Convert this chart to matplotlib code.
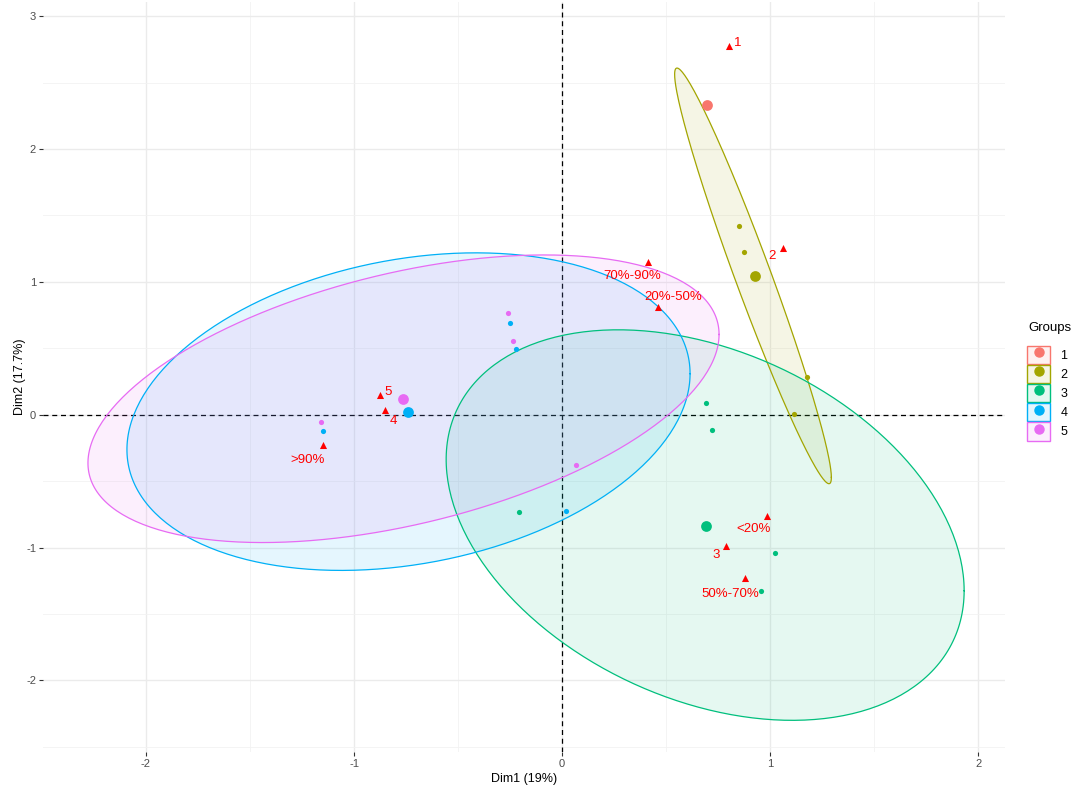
import numpy as np
import matplotlib
matplotlib.use("Agg")
import matplotlib.pyplot as plt
from matplotlib.patches import Patch
from matplotlib.lines import Line2D
from matplotlib.legend_handler import HandlerTuple

plt.rcParams['font.family'] = ['Liberation Sans', 'DejaVu Sans']
plt.rcParams['axes.unicode_minus'] = False

# individuals, coloured by group
groups = ['1', '2', '3', '4', '5']
group_colors = ['#F8766D', '#A3A500', '#00BF7D', '#00B0F6', '#E76BF3']
ind_x = [
    [0.697],
    [0.851, 0.875, 1.178, 1.115],
    [0.692, 0.721, -0.207, 1.024, 0.957],
    [-0.250, -0.221, -1.149, 0.019],
    [-0.260, -0.236, -1.159, 0.067],
]
ind_y = [
    [2.331],
    [1.421, 1.226, 0.286, 0.008],
    [0.090, -0.113, -0.729, -1.045, -1.331],
    [0.692, 0.496, -0.120, -0.722],
    [0.767, 0.556, -0.053, -0.376],
]

# group means
mean_x = [0.697, 0.928, 0.692, -0.740, -0.764]
mean_y = [2.331, 1.045, -0.835, 0.023, 0.120]

# concentration ellipses (centre + shape matrix), group 1 has none
ell_groups = [1, 2, 3, 4]
ell_cx = [0.918, 0.688, -0.738, -0.762]
ell_cy = [1.045, -0.831, 0.023, 0.120]
ell_sxx = [0.1419, 1.550, 1.832, 2.301]
ell_syy = [2.448, 2.161, 1.429, 1.172]
ell_sxy = [-0.5714, -0.615, 0.387, 0.734]

# supplementary categories
sup_labels = ['1', '2', '70%-90%', '20%-50%', '5', '4', '>90%', '<20%', '3', '50%-70%']
sup_x = [0.803, 1.063, 0.413, 0.462, -0.875, -0.851, -1.149, 0.986, 0.788, 0.880]
sup_y = [2.774, 1.256, 1.150, 0.812, 0.150, 0.038, -0.226, -0.759, -0.985, -1.233]
# label offsets in points (repelled text)
sup_offsets = [(6, 2), (-8, -6), (-11, -10), (11, 7), (6, 2), (6, -8), (-11, -11), (-10, -10), (-7, -7), (-11, -11)]

fig = plt.figure(figsize=(10.75, 7.9), dpi=100)
ax = fig.add_axes([0.040, 0.048, 0.895, 0.950])

ax.set_xticks([-2, -1, 0, 1, 2])
ax.set_yticks([-2, -1, 0, 1, 2, 3])
ax.set_xticks(np.arange(-2.5, 2.6, 1.0), minor=True)
ax.set_yticks(np.arange(-2.5, 3.1, 1.0), minor=True)
ax.set_xlim(-2.495, 2.13)
ax.set_ylim(-2.54, 3.11)
ax.grid(which='major', color='#EBEBEB', lw=1.0, zorder=0)
ax.grid(which='minor', color='#F2F2F2', lw=0.6, zorder=0)
ax.set_axisbelow(True)
for s in ax.spines.values():
    s.set_visible(False)
ax.tick_params(which='major', length=3, width=0.8, color='#333333',
               labelsize=8, labelcolor='#4D4D4D', pad=2)
ax.tick_params(which='minor', length=0)

ax.axhline(0, color='black', lw=0.9, ls=(0, (4, 3)), zorder=1)
ax.axvline(0, color='black', lw=0.9, ls=(0, (4, 3)), zorder=1)

t = np.linspace(0, 2 * np.pi, 300)
circle = np.vstack([np.cos(t), np.sin(t)])
for i, g in enumerate(ell_groups):
    m = np.array([[ell_sxx[i], ell_sxy[i]], [ell_sxy[i], ell_syy[i]]])
    L = np.linalg.cholesky(m)
    pts = L @ circle
    ex = ell_cx[i] + pts[0]
    ey = ell_cy[i] + pts[1]
    ax.fill(ex, ey, color=group_colors[g], alpha=0.1, lw=0, zorder=2)
    ax.plot(ex, ey, color=group_colors[g], lw=0.9, zorder=3)

for i, g in enumerate(groups):
    ax.scatter(ind_x[i], ind_y[i], s=14, color=group_colors[i], lw=0, zorder=4)
    ax.scatter(mean_x[i], mean_y[i], s=60, color=group_colors[i], lw=0, zorder=4)

ax.scatter(sup_x, sup_y, marker='^', s=26, color='#FF0000', lw=0, zorder=5)
for lab, x, y, off in zip(sup_labels, sup_x, sup_y, sup_offsets):
    ax.annotate(lab, (x, y), xytext=off, textcoords='offset points',
                ha='center', va='center', color='#FF0000', fontsize=9.5, zorder=6)

ax.set_xlabel('Dim1 (19%)', fontsize=9, labelpad=3)
ax.set_ylabel('Dim2 (17.7%)', fontsize=9, labelpad=0)

handles = []
for c in group_colors:
    box = Patch(facecolor=matplotlib.colors.to_rgba(c, 0.1), edgecolor=c, lw=1.0)
    dot = Line2D([], [], marker='o', ls='', color=c, markersize=6.5)
    handles.append((box, dot))
fig.legend(handles, groups, loc='center left',
           bbox_to_anchor=(0.955, 0.5025), frameon=False, fontsize=9,
           handlelength=1.9, handleheight=1.9,
           handletextpad=0.8, labelspacing=0.05, borderpad=0,
           borderaxespad=0,
           handler_map={tuple: HandlerTuple(ndivide=1, pad=0)})
fig.text(0.9563, 0.5848, 'Groups', fontsize=9.5, ha='left', va='center')

fig.savefig('out.png', dpi=100, facecolor='white')
